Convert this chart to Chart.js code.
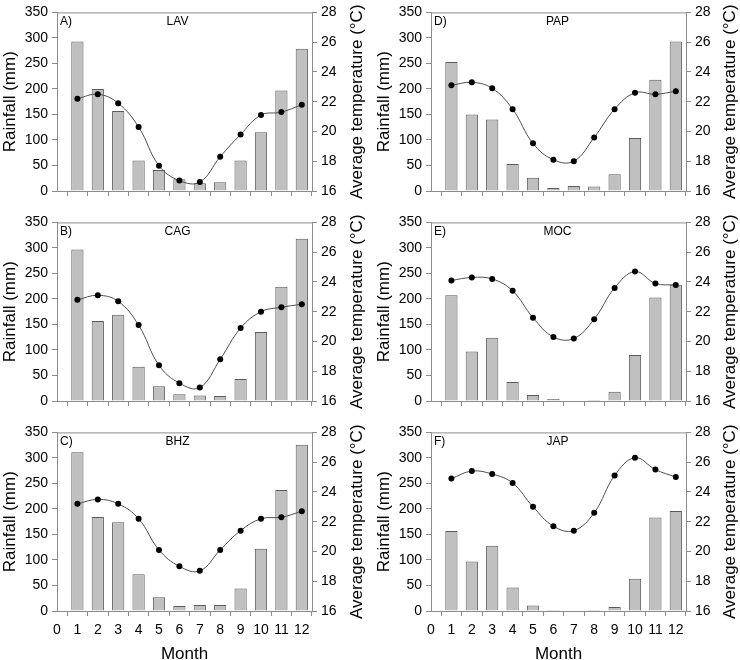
<!DOCTYPE html>
<html>
<head>
<meta charset="utf-8">
<script src="https://cdn.jsdelivr.net/npm/chart.js@4/dist/chart.umd.min.js"></script>
<style>
  body { margin: 0; background: #fff; }
  #wrap { position: relative; width: 740px; height: 660px; }
  canvas { position: absolute; }
</style>
</head>
<body>
<div id="wrap"></div>
<script>
// Monthly rainfall (mm) and average temperature (°C) per station
const months = [1, 2, 3, 4, 5, 6, 7, 8, 9, 10, 11, 12];
const monthTicks = [0, 1, 2, 3, 4, 5, 6, 7, 8, 9, 10, 11, 12];
const rainTicks = [0, 50, 100, 150, 200, 250, 300, 350];
const tempTicks = [16, 18, 20, 22, 24, 26, 28];

const lavRain = [293, 200, 157, 60, 41, 23, 15, 17, 60, 115, 197, 279];
const lavTemp = [22.2, 22.5, 21.9, 20.3, 17.7, 16.7, 16.6, 18.3, 19.8, 21.1, 21.3, 21.8];
const cagRain = [297, 157, 169, 67, 29, 13, 11, 10, 43, 135, 224, 318];
const cagTemp = [22.8, 23.1, 22.7, 21.1, 18.4, 17.2, 16.9, 18.8, 20.9, 22.0, 22.3, 22.5];
const bhzRain = [311, 184, 174, 72, 27, 10, 12, 12, 44, 122, 237, 326];
const bhzTemp = [23.2, 23.5, 23.2, 22.2, 20.1, 19.0, 18.7, 20.1, 21.4, 22.2, 22.3, 22.7];
const papRain = [253, 150, 140, 53, 26, 6, 10, 9, 33, 104, 218, 293];
const papTemp = [23.1, 23.3, 22.9, 21.5, 19.2, 18.1, 18.0, 19.6, 21.5, 22.6, 22.5, 22.7];
const mocRain = [207, 97, 124, 37, 12, 4, 1, 2, 18, 90, 203, 228];
const mocTemp = [24.1, 24.3, 24.2, 23.4, 21.6, 20.3, 20.2, 21.5, 23.6, 24.7, 23.9, 23.8];
const japRain = [157, 97, 128, 46, 11, 2, 0, 2, 8, 63, 183, 196];
const japTemp = [24.9, 25.4, 25.2, 24.6, 23.0, 21.7, 21.4, 22.6, 25.1, 26.3, 25.5, 25.0];

const panels = [
    { letter: "A)", name: "LAV", rain: lavRain, temp: lavTemp, col: 0, row: 0 },
    { letter: "B)", name: "CAG", rain: cagRain, temp: cagTemp, col: 0, row: 1 },
    { letter: "C)", name: "BHZ", rain: bhzRain, temp: bhzTemp, col: 0, row: 2 },
    { letter: "D)", name: "PAP", rain: papRain, temp: papTemp, col: 1, row: 0 },
    { letter: "E)", name: "MOC", rain: mocRain, temp: mocTemp, col: 1, row: 1 },
    { letter: "F)", name: "JAP", rain: japRain, temp: japTemp, col: 1, row: 2 }
];

Chart.defaults.font.family = "'Liberation Sans', Arial, sans-serif";
Chart.defaults.color = "#000";

const axisColor = "#8c8c8c";
const FONT = "'Liberation Sans', Arial, sans-serif";

// frame top, panel labels, right title and x title
const decorPlugin = {
    id: "decor",
    afterDraw(chart, args, opts) {
        const { ctx, chartArea: a } = chart;
        ctx.save();
        ctx.strokeStyle = axisColor;
        ctx.lineWidth = 1;
        ctx.beginPath();
        ctx.moveTo(a.left, a.top + 0.5);
        ctx.lineTo(a.right, a.top + 0.5);
        ctx.stroke();

        ctx.fillStyle = "#000";
        ctx.font = "12px " + FONT;
        ctx.textBaseline = "alphabetic";
        ctx.textAlign = "left";
        ctx.fillText(opts.letter, a.left + 3, a.top + 13);
        ctx.textAlign = "center";
        ctx.fillText(opts.name, (a.left + a.right) / 2 + opts.nameShift, a.top + 13);

        ctx.font = "17px " + FONT;
        ctx.translate(opts.rightTitleX, (a.top + a.bottom) / 2);
        ctx.rotate(-Math.PI / 2);
        ctx.textBaseline = "middle";
        ctx.fillText("Average temperature (°C)", 0, 0);
        ctx.restore();

        if (opts.bottom) {
            ctx.save();
            ctx.fillStyle = "#000";
            ctx.font = "17px " + FONT;
            ctx.textAlign = "center";
            ctx.textBaseline = "alphabetic";
            ctx.fillText("Month", (a.left + a.right) / 2, chart.height - 1);
            ctx.restore();
        }
    }
};

const wrap = document.getElementById("wrap");

panels.forEach((p) => {
    const bottom = p.row === 2;
    const canvas = document.createElement("canvas");
    canvas.width = 370;
    canvas.height = bottom ? 240 : 210;
    canvas.style.left = (p.col * 370) + "px";
    canvas.style.top = (p.row * 210) + "px";
    wrap.appendChild(canvas);

    const leftW = p.col === 0 ? 57 : 61;
    const rightW = p.col === 0 ? 58 : 54;

    new Chart(canvas, {
        type: "bar",
        data: {
            datasets: [
                {
                    type: "line",
                    data: months.map((m, i) => ({ x: m, y: p.temp[i] })),
                    yAxisID: "yT",
                    order: 0,
                    borderColor: "#4d4d4d",
                    borderWidth: 1,
                    tension: 0.4,
                    pointRadius: 3,
                    pointBackgroundColor: "#000",
                    pointBorderColor: "#000",
                    pointBorderWidth: 0
                },
                {
                    type: "bar",
                    data: months.map((m, i) => ({ x: m, y: p.rain[i] })),
                    yAxisID: "yR",
                    order: 1,
                    backgroundColor: "#c0c0c0",
                    borderColor: "#5a5a5a",
                    borderWidth: 1,
                    barPercentage: 0.6,
                    categoryPercentage: 1
                }
            ]
        },
        options: {
            responsive: false,
            animation: false,
            devicePixelRatio: 1,
            layout: { padding: { top: 7, left: 0, right: 0, bottom: 0 }, autoPadding: false },
            plugins: {
                legend: { display: false },
                tooltip: { enabled: false },
                decor: {
                    letter: p.letter,
                    name: p.name,
                    nameShift: p.col === 0 ? -7 : -1,
                    rightTitleX: p.col === 0 ? 357 : 360,
                    bottom: bottom
                }
            },
            scales: {
                x: {
                    type: "linear",
                    min: 0,
                    max: 12.5,
                    offset: false,
                    afterBuildTicks: (s) => { s.ticks = monthTicks.map((v) => ({ value: v })); },
                    afterFit: (s) => { s.height = bottom ? 49 : 19; },
                    ticks: { display: bottom, font: { size: 14 }, padding: 6, autoSkip: false, maxRotation: 0 },
                    grid: { display: true, drawOnChartArea: false, drawTicks: true, tickLength: 5, color: axisColor },
                    border: { display: true, color: axisColor, width: 1 }
                },
                yR: {
                    position: "left",
                    min: 0,
                    max: 350,
                    afterBuildTicks: (s) => { s.ticks = rainTicks.map((v) => ({ value: v })); },
                    afterFit: (s) => { s.width = leftW; },
                    ticks: { font: { size: 14 }, padding: 4 },
                    grid: { display: true, drawOnChartArea: false, drawTicks: true, tickLength: 5, color: axisColor },
                    border: { display: true, color: axisColor, width: 1 },
                    title: {
                        display: true,
                        text: "Rainfall (mm)",
                        font: { size: 17 },
                        padding: { top: p.col === 0 ? 0 : 4, bottom: 0 }
                    }
                },
                yT: {
                    position: "right",
                    min: 16,
                    max: 28,
                    afterBuildTicks: (s) => { s.ticks = tempTicks.map((v) => ({ value: v })); },
                    afterFit: (s) => { s.width = rightW; },
                    ticks: { font: { size: 14 }, padding: 4 },
                    grid: { display: true, drawOnChartArea: false, drawTicks: true, tickLength: 5, color: axisColor },
                    border: { display: true, color: axisColor, width: 1 }
                }
            }
        },
        plugins: [decorPlugin]
    });
});
</script>
</body>
</html>
